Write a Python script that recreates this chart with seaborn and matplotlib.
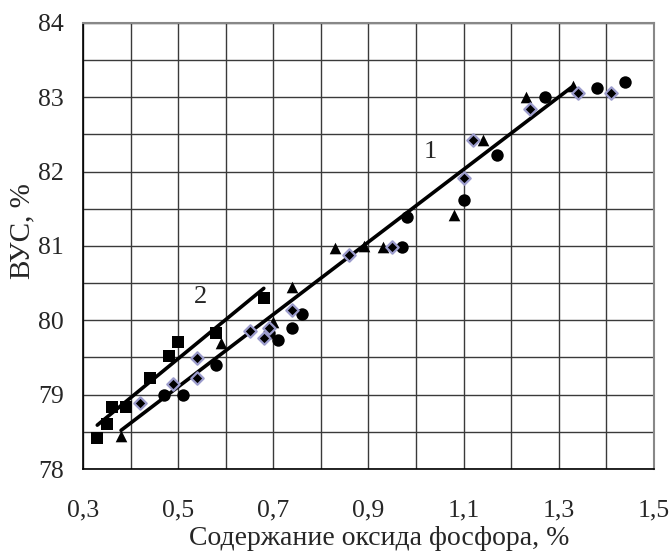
import matplotlib
matplotlib.use("Agg")
import matplotlib.pyplot as plt
import seaborn as sns
import pandas as pd
from matplotlib.ticker import MultipleLocator, FuncFormatter

# Measured samples, grouped by marker
circle_x = [0.47, 0.51, 0.58, 0.69, 0.71, 0.74, 0.76, 0.97, 0.98, 1.10, 1.17, 1.27, 1.38, 1.44]
circle_y = [79.00, 79.00, 79.40, 79.83, 79.73, 79.89, 80.09, 80.99, 81.39, 81.62, 82.23, 83.01, 83.12, 83.20]

triangle_x = [0.38, 0.59, 0.70, 0.74, 0.83, 0.89, 0.93, 1.08, 1.14, 1.23, 1.33]
triangle_y = [78.45, 79.70, 79.98, 80.45, 80.97, 81.00, 80.98, 81.42, 82.42, 83.00, 83.15]

diamond_x = [0.42, 0.49, 0.54, 0.54, 0.65, 0.68, 0.69, 0.74, 0.86, 0.95, 1.10, 1.12, 1.24, 1.34, 1.41]
diamond_y = [78.89, 79.14, 79.23, 79.49, 79.86, 79.76, 79.89, 80.14, 80.88, 80.99, 81.91, 82.42, 82.84, 83.06, 83.06]

square_x = [0.33, 0.35, 0.36, 0.39, 0.44, 0.48, 0.50, 0.58, 0.68]
square_y = [78.42, 78.60, 78.83, 78.83, 79.23, 79.52, 79.71, 79.83, 80.30]

# Trend lines (endpoints)
line1_x = [0.38, 1.33]
line1_y = [78.52, 83.15]
line2_x = [0.33, 0.68]
line2_y = [78.59, 80.43]

x_ticks = [0.3, 0.5, 0.7, 0.9, 1.1, 1.3, 1.5]
y_ticks = [78, 79, 80, 81, 82, 83, 84]

sns.set_theme(style="white")
plt.rcParams["font.family"] = ["Liberation Serif", "DejaVu Serif"]

fig = plt.figure(figsize=(6.72, 5.59), dpi=100)
ax = fig.add_axes([0.1235, 0.161, 0.8497, 0.798])

ax.set_xlim(0.3, 1.5)
ax.set_ylim(78, 84)
ax.xaxis.set_minor_locator(MultipleLocator(0.1))
ax.yaxis.set_minor_locator(MultipleLocator(0.5))
ax.set_xticks(x_ticks)
ax.set_yticks(y_ticks)
ax.grid(True, which="both", color="#3a3a3a", linewidth=1.0)
ax.set_axisbelow(True)

lines = pd.DataFrame({
    "x": line1_x + line2_x,
    "y": line1_y + line2_y,
    "curve": ["1"] * len(line1_x) + ["2"] * len(line2_x),
})
sns.lineplot(data=lines, x="x", y="y", units="curve", estimator=None,
             color="black", linewidth=2.6, ax=ax, legend=False, zorder=3)

sns.scatterplot(x=circle_x, y=circle_y, marker="o", s=80, color="black",
                edgecolor="black", linewidth=0, ax=ax, zorder=4)
sns.scatterplot(x=triangle_x, y=triangle_y, marker="^", s=70, color="black",
                edgecolor="black", linewidth=0, ax=ax, zorder=4)
sns.scatterplot(x=square_x, y=square_y, marker="s", s=85, color="black",
                edgecolor="black", linewidth=0, ax=ax, zorder=4)
sns.scatterplot(x=diamond_x, y=diamond_y, marker="D", s=40, color="black",
                edgecolor="#9c9ccc", linewidth=1.6, ax=ax, zorder=5)

ax.text(1.03, 82.26, "1", fontsize=19, ha="center", va="center")
ax.text(0.546, 80.31, "2", fontsize=19, ha="center", va="center")

fmt = FuncFormatter(lambda v, p: (f"{v:.1f}").replace(".", ","))
ax.xaxis.set_major_formatter(fmt)
ax.yaxis.set_major_formatter(FuncFormatter(lambda v, p: f"{v:.0f}"))

ax.tick_params(axis="both", which="major", labelsize=18.5, length=4,
               width=1, color="black", direction="in")
ax.tick_params(axis="x", pad=22)
ax.tick_params(axis="y", pad=13.5)
ax.tick_params(axis="both", which="minor", length=0)

for side in ["left", "bottom"]:
    ax.spines[side].set_color("black")
    ax.spines[side].set_linewidth(1.2)
for side in ["top", "right"]:
    ax.spines[side].set_color("#888888")
    ax.spines[side].set_linewidth(1.5)

ax.set_xlabel("Содержание оксида фосфора, %", fontsize=20)
ax.xaxis.label.set_va("center")
ax.xaxis.set_label_coords(0.519, -0.155)
ax.set_ylabel("ВУС, %", fontsize=21)
ax.yaxis.label.set_va("center")
ax.yaxis.set_label_coords(-0.107, 0.534)

fig.savefig("out.png", dpi=100)
